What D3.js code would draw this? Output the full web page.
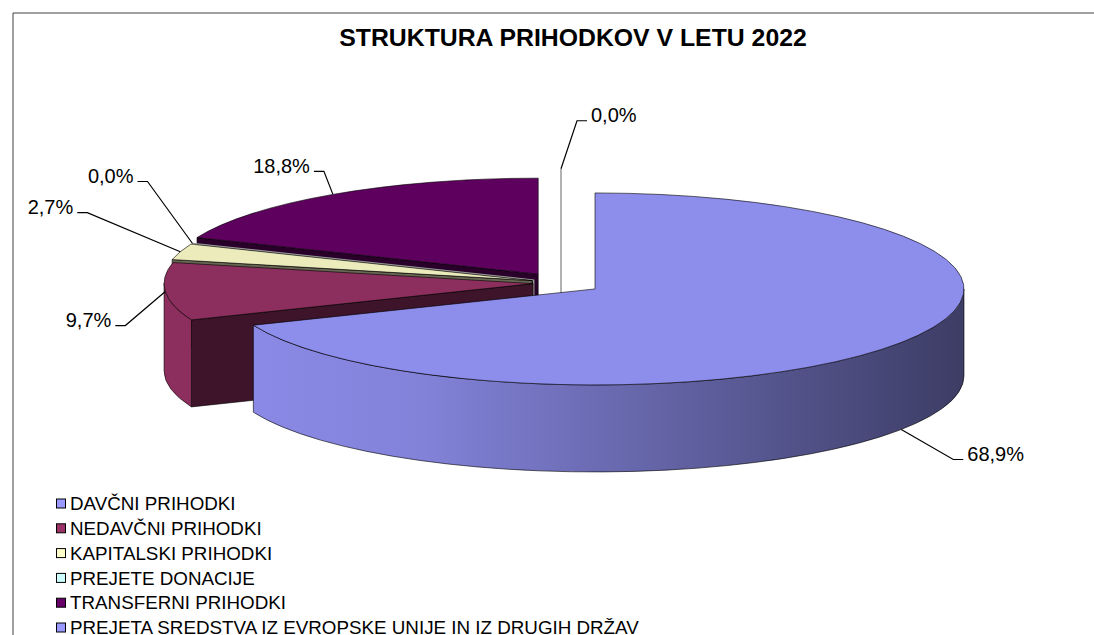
<!DOCTYPE html>
<html>
<head>
<meta charset="utf-8">
<script src="https://cdn.jsdelivr.net/npm/d3@7"></script>
<style>
  body { margin: 0; background: #fff; }
  svg { display: block; font-family: Arial, "Liberation Sans", sans-serif; }
</style>
</head>
<body>
<svg width="1094" height="635"></svg>
<script>
// data
var categories = ["DAVČNI PRIHODKI", "NEDAVČNI PRIHODKI", "KAPITALSKI PRIHODKI",
  "PREJETE DONACIJE", "TRANSFERNI PRIHODKI", "PREJETA SREDSTVA IZ EVROPSKE UNIJE IN IZ DRUGIH DRŽAV"];
var shares = [68.9, 9.7, 2.7, 0.0, 18.8, 0.0];
var colors = ["#9999ff", "#993366", "#ffffcc", "#ccffff", "#660066", "#9999ff"];

// layout
var cx = 561, cy = 283;      // pie centre
var rx = 369, ry = 96;       // top ellipse
var depth = 87;
// per-slice explosion (fraction of radius), as set on the original chart
var explodeBy = [0.111, 0.076, 0.082, 0.08, 0.111, 0.19];
// leader elbow offsets from each slice's anchor point (hand placed labels)
var labelNudge = [[52, 30], [-40, 34], [-93, -39], [-45, -62], [-9, -23], [16, -48]];

var svg = d3.select("svg");
var fmt = d3.formatLocale({decimal: ",", thousands: ".", grouping: [3], currency: ["", "€"]}).format(".1f");

// frame
svg.append("path")
  .attr("d", "M13,640V13H1100")
  .attr("fill", "none").attr("stroke", "#404040").attr("stroke-width", 1);

// title
svg.append("text")
  .attr("x", 573).attr("y", 46)
  .attr("text-anchor", "middle")
  .attr("font-weight", "bold").attr("font-size", 24.8)
  .text("STRUKTURA PRIHODKOV V LETU 2022");

var pie = d3.pie().sort(null).value(function(d) { return d; });
var arcs = pie(shares);

var slices = arcs.map(function(a, i) {
  var m = (a.startAngle + a.endAngle) / 2;
  return {
    i: i, a0: a.startAngle, a1: a.endAngle, m: m,
    cx: cx + explodeBy[i] * rx * Math.sin(m),
    cy: cy - explodeBy[i] * ry * Math.cos(m),
    zero: a.endAngle - a.startAngle < 1e-6
  };
});

function pt(s, a) { return [s.cx + rx * Math.sin(a), s.cy - ry * Math.cos(a)]; }

function topPath(s) {
  var p0 = pt(s, s.a0), p1 = pt(s, s.a1);
  var large = (s.a1 - s.a0) > Math.PI ? 1 : 0;
  return "M" + s.cx + "," + s.cy + "L" + p0 + "A" + rx + "," + ry + " 0 " + large + " 1 " + p1 + "Z";
}
function sidePath(s) {
  var b0 = Math.max(s.a0, Math.PI / 2), b1 = Math.min(s.a1, 3 * Math.PI / 2);
  if (b1 <= b0) return null;
  var p0 = pt(s, b0), p1 = pt(s, b1);
  return "M" + p0 + "A" + rx + "," + ry + " 0 0 1 " + p1 +
    "L" + p1[0] + "," + (p1[1] + depth) +
    "A" + rx + "," + ry + " 0 0 0 " + p0[0] + "," + (p0[1] + depth) + "Z";
}
function wallPath(s, a) {
  var p = pt(s, a);
  return "M" + s.cx + "," + s.cy + "L" + p + "L" + p[0] + "," + (p[1] + depth) +
    "L" + s.cx + "," + (s.cy + depth) + "Z";
}

function shade(c, k) {
  var col = d3.rgb(c);
  return d3.rgb(col.r * k, col.g * k, col.b * k).toString();
}

// side gradients
var defs = svg.append("defs");
slices.forEach(function(s) {
  var g = defs.append("linearGradient")
    .attr("id", "side" + s.i)
    .attr("gradientUnits", "userSpaceOnUse")
    .attr("x1", cx - rx).attr("x2", cx + rx + 30).attr("y1", 0).attr("y2", 0);
  g.append("stop").attr("offset", 0).attr("stop-color", shade(colors[s.i], 0.92));
  g.append("stop").attr("offset", 0.3).attr("stop-color", shade(colors[s.i], 0.85));
  g.append("stop").attr("offset", 1).attr("stop-color", shade(colors[s.i], 0.4));
});

// back to front
var order = slices.slice().sort(function(p, q) { return Math.cos(q.m) - Math.cos(p.m); });
var gPie = svg.append("g");
var edge = { stroke: "#000", "stroke-width": 0.8, "stroke-opacity": 0.75, "stroke-linejoin": "round" };

function face(g, d, fill) {
  var p = g.append("path").attr("d", d).attr("fill", fill);
  for (var k in edge) p.attr(k, edge[k]);
}

order.forEach(function(s) {
  var g = gPie.append("g");
  if (s.zero) {
    var p = pt(s, s.a0);
    g.append("path")
      .attr("d", "M" + p + "L" + s.cx + "," + s.cy + "L" + s.cx + "," + (s.cy + depth))
      .attr("fill", "none").attr("stroke", "#999").attr("stroke-width", 1.5);
    return;
  }
  if (Math.sin(s.a0) < -1e-6) face(g, wallPath(s, s.a0), shade(colors[s.i], 0.4));
  if (Math.sin(s.a1) > 1e-6) face(g, wallPath(s, s.a1), shade(colors[s.i], 0.4));
  var sp = sidePath(s);
  if (sp) face(g, sp, "url(#side" + s.i + ")");
  face(g, topPath(s), shade(colors[s.i], 0.92));
});

// labels with leader lines
var gLab = svg.append("g").attr("font-size", 20).attr("fill", "#000");
slices.forEach(function(s) {
  var a = pt(s, s.m);
  if (-Math.cos(s.m) > 0.5) a = [a[0], a[1] + depth];
  var n = labelNudge[s.i];
  var e = [a[0] + n[0], a[1] + n[1]];
  var dir = n[0] > 0 ? 1 : -1;
  var h = [e[0] + dir * 10, e[1]];
  gLab.append("path")
    .attr("d", "M" + a + "L" + e + "L" + h)
    .attr("fill", "none").attr("stroke", "#000").attr("stroke-width", 1.2);
  gLab.append("text")
    .attr("x", h[0] + dir * 4).attr("y", h[1] + 1.5)
    .attr("text-anchor", dir > 0 ? "start" : "end")
    .text(fmt(shares[s.i]) + "%");
});

// legend
var legend = svg.append("g").attr("font-size", 18.8);
categories.forEach(function(c, i) {
  var y = 503.5 + i * 24.8;
  legend.append("rect")
    .attr("x", 56.5).attr("y", y - 4.5).attr("width", 9).attr("height", 9)
    .attr("fill", colors[i]).attr("stroke", "#000").attr("stroke-width", 1);
  legend.append("text")
    .attr("x", 70).attr("y", y + 6.7)
    .text(c);
});
</script>
</body>
</html>
